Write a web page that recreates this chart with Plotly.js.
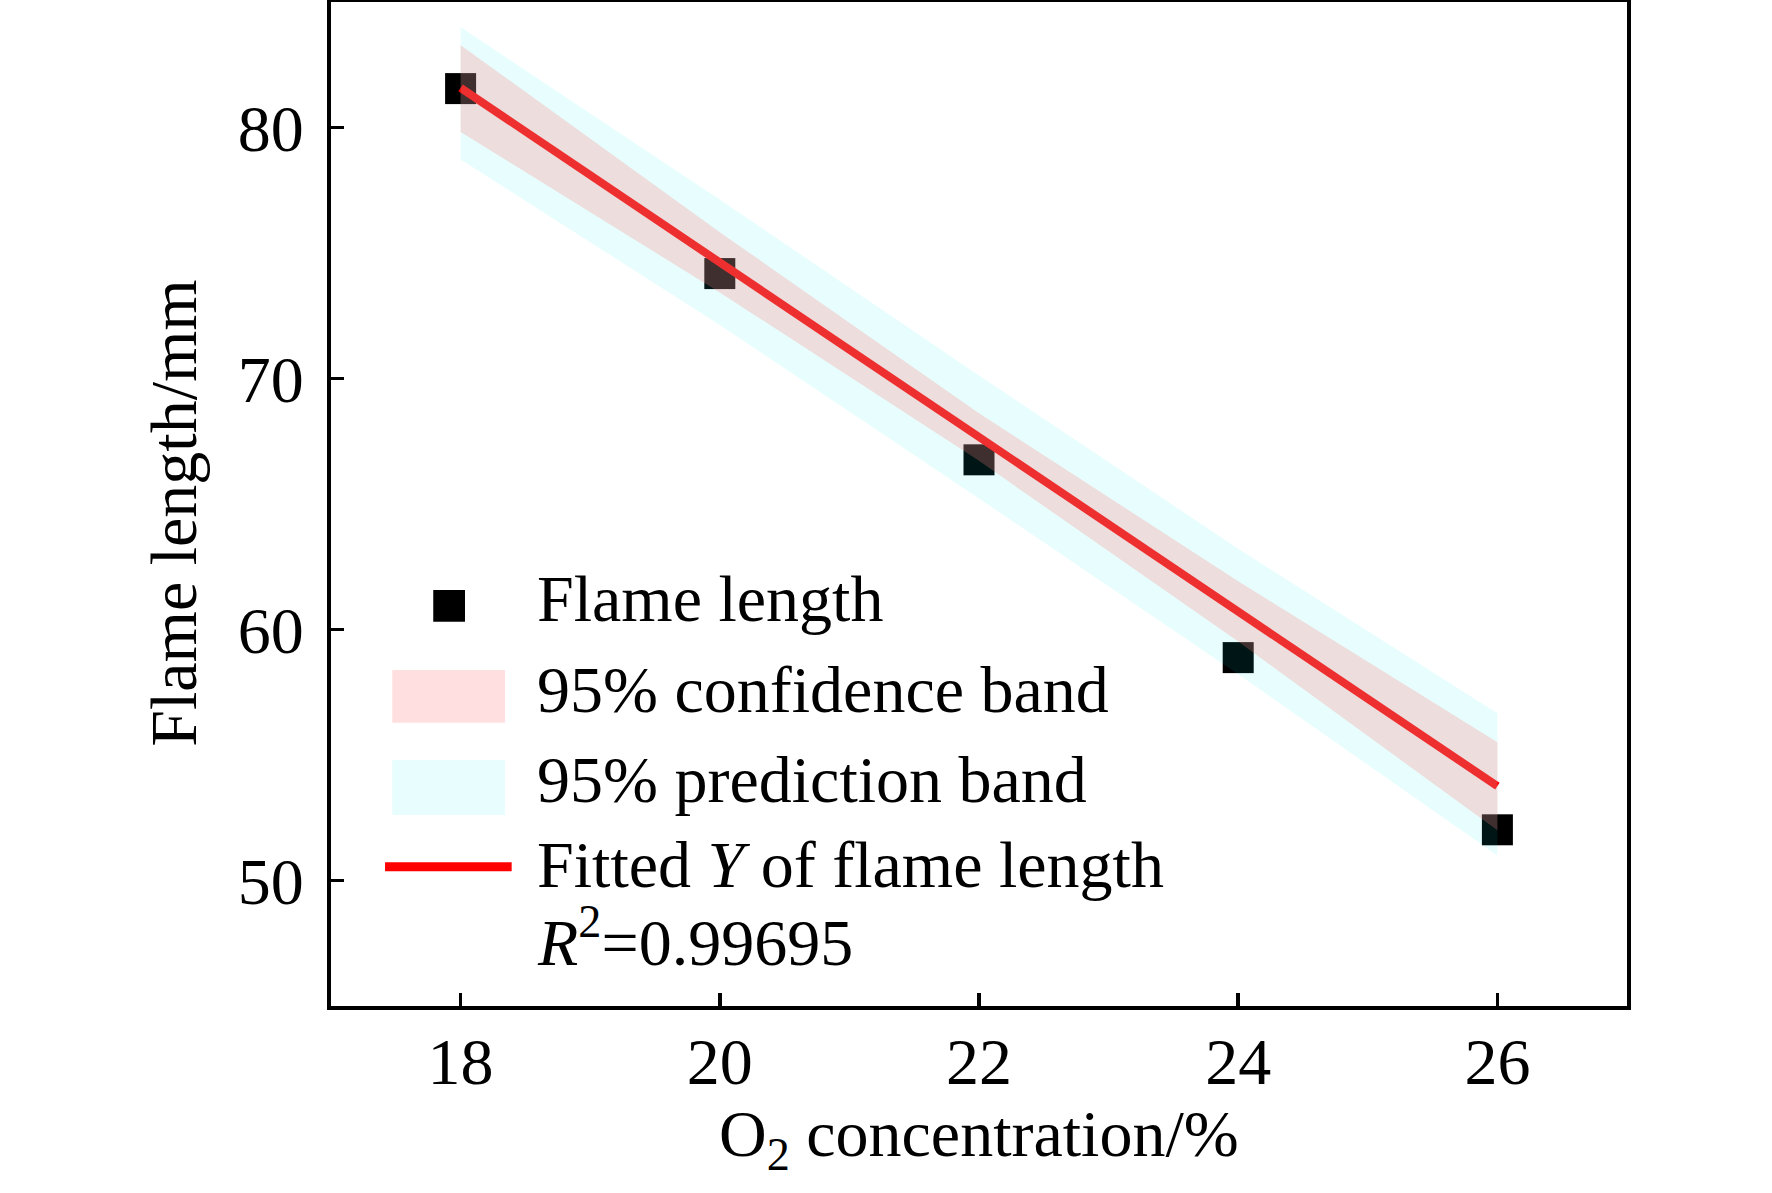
<!DOCTYPE html>
<html>
<head>
<meta charset="utf-8">
<script src="https://cdn.plot.ly/plotly-3.0.1.min.js"></script>
<style>
html, body { margin: 0; padding: 0; background: #fff; }
#chart { width: 1772px; height: 1193px; }
</style>
</head>
<body>
<div id="chart"></div>
<script>
// measured flame length against O2 concentration
let oxygen = [18, 20, 22, 24, 26]
let flameLength = [81.55, 74.18, 66.76, 58.88, 52.02]

// fitted line, read at its two ends
let fitX = [18, 26]
let fitY = [81.58, 53.76]

// 95% bands read at each concentration
let confUpper = [83.28, 75.83, 68.62, 61.92, 55.51]
let confLower = [79.82, 73.43, 66.72, 59.52, 52.0]
let predUpper = [84.0, 77.13, 70.12, 63.22, 56.66]
let predLower = [78.73, 72.13, 65.22, 58.22, 51.0]

let xTicks = [18, 20, 22, 24, 26]
let yTicks = [50, 60, 70, 80]

let serif = "Liberation Serif, Times New Roman, serif"
let cyanFill = "rgba(0,235,235,0.09)"
let pinkFill = "rgba(255,128,128,0.25)"

function bandPolygon(upper, lower){
  let xs = oxygen.concat(oxygen.slice().reverse())
  let ys = upper.concat(lower.slice().reverse())
  return {xs: xs, ys: ys}
}

let pred = bandPolygon(predUpper, predLower)
let conf = bandPolygon(confUpper, confLower)

let traces = [
  {
    x: oxygen, y: flameLength, type: "scatter", mode: "markers",
    marker: {symbol: "square", size: 31, color: "#000", line: {width: 0}},
    showlegend: false, hoverinfo: "skip"
  },
  {
    x: fitX, y: fitY, type: "scatter", mode: "lines",
    line: {color: "#ff0000", width: 8},
    showlegend: false, hoverinfo: "skip"
  },
  {
    x: pred.xs, y: pred.ys, type: "scatter", mode: "none",
    fill: "toself", fillcolor: cyanFill,
    showlegend: false, hoverinfo: "skip"
  },
  {
    x: conf.xs, y: conf.ys, type: "scatter", mode: "none",
    fill: "toself", fillcolor: pinkFill,
    showlegend: false, hoverinfo: "skip"
  }
]

let axisCommon = {
  showline: true, linecolor: "#000", linewidth: 4, mirror: true,
  showgrid: false, zeroline: false,
  ticks: "inside", ticklen: 13, tickwidth: 3.5, tickcolor: "#000",
  tickfont: {family: serif, size: 66, color: "#000"}
}

// legend drawn by hand so the swatches keep their size
let legendFont = {family: serif, size: 66, color: "#000"}
let legendItems = [
  {text: "Flame length", y: 0.3675},
  {text: "95% confidence band", y: 0.2773},
  {text: "95% prediction band", y: 0.1876},
  {text: "Fitted <i>Y</i> of flame length", y: 0.1030},
  {text: "<i>R</i><sup>2</sup>=0.99695", y: 0.0249}
]

let annotations = legendItems.map(it => ({
  xref: "paper", yref: "paper", x: 0.1575, y: it.y,
  xanchor: "left", yanchor: "bottom", showarrow: false,
  text: it.text, font: legendFont
}))

annotations.push({
  xref: "paper", yref: "paper", x: 0.5, y: -0.0886,
  xanchor: "center", yanchor: "top", showarrow: false,
  text: "O<sub>2</sub> concentration/%", font: legendFont
})
annotations.push({
  xref: "paper", yref: "paper", x: -0.0924, y: 0.491,
  xanchor: "right", yanchor: "middle", showarrow: false, textangle: -90,
  text: "Flame length/mm", font: legendFont
})

let shapes = [
  {type: "rect", xref: "paper", yref: "paper", x0: 0.0789, x1: 0.1034, y0: 0.3828, y1: 0.4143,
   fillcolor: "#000", line: {width: 0}},
  {type: "rect", xref: "paper", yref: "paper", x0: 0.0473, x1: 0.1343, y0: 0.2822, y1: 0.3347,
   fillcolor: pinkFill, line: {width: 0}},
  {type: "rect", xref: "paper", yref: "paper", x0: 0.0473, x1: 0.1343, y0: 0.1902, y1: 0.2450,
   fillcolor: cyanFill, line: {width: 0}},
  {type: "line", xref: "paper", yref: "paper", x0: 0.0417, x1: 0.1394, y0: 0.1387, y1: 0.1387,
   line: {color: "#ff0000", width: 9}}
]

let layout = {
  width: 1772, height: 1193,
  margin: {l: 331, r: 145, t: 2, b: 187},
  paper_bgcolor: "#fff", plot_bgcolor: "#fff",
  font: {family: serif, color: "#000"},
  xaxis: Object.assign({}, axisCommon, {
    range: [17, 27], tickvals: xTicks, ticklabelstandoff: -5
  }),
  yaxis: Object.assign({}, axisCommon, {
    range: [45, 85], tickvals: yTicks, ticklabelstandoff: 10
  }),
  annotations: annotations,
  shapes: shapes,
  showlegend: false
}

Plotly.newPlot("chart", traces, layout, {displayModeBar: false, staticPlot: true})
</script>
</body>
</html>
